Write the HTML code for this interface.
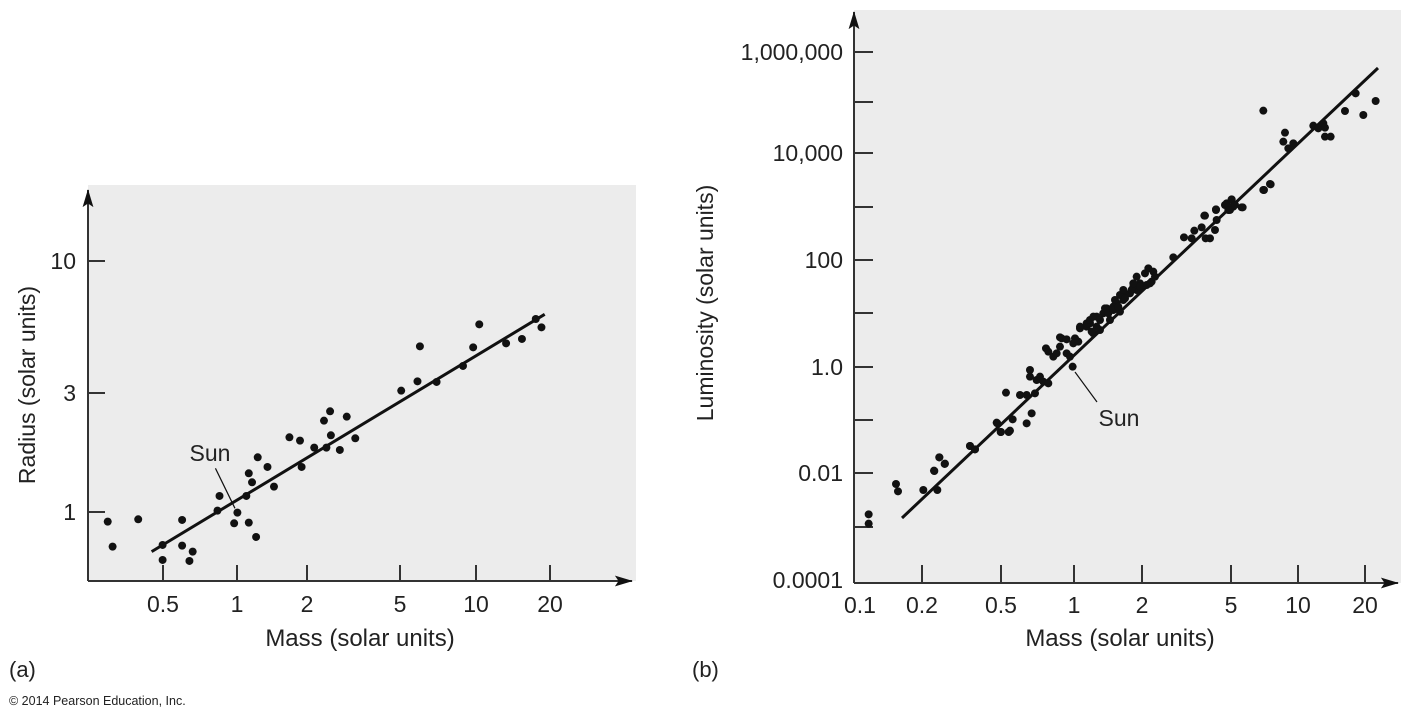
<!DOCTYPE html>
<html><head><meta charset="utf-8"><style>
html,body{margin:0;padding:0;background:#fff;}
svg{display:block;font-family:"Liberation Sans",Arial,sans-serif;}
</style></head><body>
<svg width="1411" height="721" viewBox="0 0 1411 721" xmlns="http://www.w3.org/2000/svg">
<defs>
<marker id="ar2" viewBox="0 0 20 12" markerWidth="18" markerHeight="12" refX="19" refY="6" orient="auto" markerUnits="userSpaceOnUse"><path d="M0,0 L20,6 L0,12 L4,6 Z" fill="#111"/></marker></defs>
<!-- LEFT PANEL -->
<rect x="88" y="185" width="548" height="396" fill="#ececec"/>
<line x1="88" y1="581" x2="88" y2="190" stroke="#333" stroke-width="2" marker-end="url(#ar2)"/>
<line x1="88" y1="581" x2="632" y2="581" stroke="#333" stroke-width="2" marker-end="url(#ar2)"/>
<g stroke="#333" stroke-width="2">
<line x1="88" y1="261" x2="105" y2="261"/><line x1="88" y1="393" x2="105" y2="393"/><line x1="88" y1="512" x2="105" y2="512"/>
<line x1="163" y1="581" x2="163" y2="565"/><line x1="237" y1="581" x2="237" y2="565"/><line x1="307" y1="581" x2="307" y2="565"/>
<line x1="400" y1="581" x2="400" y2="565"/><line x1="476" y1="581" x2="476" y2="565"/><line x1="550" y1="581" x2="550" y2="565"/>
</g>
<g font-size="23" fill="#222" text-anchor="end">
<text x="76" y="269">10</text><text x="76" y="401">3</text><text x="76" y="520">1</text></g>
<g font-size="23" fill="#222" text-anchor="middle">
<text x="163" y="612">0.5</text><text x="237" y="612">1</text><text x="307" y="612">2</text><text x="400" y="612">5</text><text x="476" y="612">10</text><text x="550" y="612">20</text>
<text x="360" y="646" font-size="24">Mass (solar units)</text>
<text transform="translate(35,385) rotate(-90)">Radius (solar units)</text>
</g>
<g transform="translate(0,180) scale(0.4065,0.3333)">
<line x1="373" y1="1115" x2="1340" y2="403" stroke="#111" stroke-width="3" vector-effect="non-scaling-stroke"/>
<line x1="530" y1="865" x2="578" y2="985" stroke="#111" stroke-width="1.2" vector-effect="non-scaling-stroke"/>
<g fill="#111">
<ellipse cx="265" cy="1025" rx="9.8" ry="12"/><ellipse cx="277" cy="1100" rx="9.8" ry="12"/><ellipse cx="340" cy="1018" rx="9.8" ry="12"/><ellipse cx="400" cy="1095" rx="9.8" ry="12"/><ellipse cx="400" cy="1140" rx="9.8" ry="12"/><ellipse cx="448" cy="1020" rx="9.8" ry="12"/><ellipse cx="448" cy="1097" rx="9.8" ry="12"/><ellipse cx="466" cy="1143" rx="9.8" ry="12"/><ellipse cx="474" cy="1115" rx="9.8" ry="12"/><ellipse cx="535" cy="992" rx="9.8" ry="12"/><ellipse cx="540" cy="948" rx="9.8" ry="12"/><ellipse cx="576" cy="1030" rx="9.8" ry="12"/><ellipse cx="584" cy="998" rx="9.8" ry="12"/><ellipse cx="606" cy="948" rx="9.8" ry="12"/><ellipse cx="612" cy="880" rx="9.8" ry="12"/><ellipse cx="612" cy="1028" rx="9.8" ry="12"/><ellipse cx="620" cy="907" rx="9.8" ry="12"/><ellipse cx="630" cy="1071" rx="9.8" ry="12"/><ellipse cx="634" cy="832" rx="9.8" ry="12"/><ellipse cx="658" cy="861" rx="9.8" ry="12"/><ellipse cx="674" cy="920" rx="9.8" ry="12"/><ellipse cx="712" cy="772" rx="9.8" ry="12"/><ellipse cx="738" cy="782" rx="9.8" ry="12"/><ellipse cx="742" cy="861" rx="9.8" ry="12"/><ellipse cx="773" cy="803" rx="9.8" ry="12"/><ellipse cx="797" cy="722" rx="9.8" ry="12"/><ellipse cx="803" cy="803" rx="9.8" ry="12"/><ellipse cx="812" cy="694" rx="9.8" ry="12"/><ellipse cx="814" cy="766" rx="9.8" ry="12"/><ellipse cx="836" cy="810" rx="9.8" ry="12"/><ellipse cx="853" cy="710" rx="9.8" ry="12"/><ellipse cx="874" cy="775" rx="9.8" ry="12"/><ellipse cx="987" cy="632" rx="9.8" ry="12"/><ellipse cx="1027" cy="604" rx="9.8" ry="12"/><ellipse cx="1033" cy="499" rx="9.8" ry="12"/><ellipse cx="1074" cy="606" rx="9.8" ry="12"/><ellipse cx="1139" cy="558" rx="9.8" ry="12"/><ellipse cx="1164" cy="502" rx="9.8" ry="12"/><ellipse cx="1179" cy="433" rx="9.8" ry="12"/><ellipse cx="1245" cy="490" rx="9.8" ry="12"/><ellipse cx="1284" cy="477" rx="9.8" ry="12"/><ellipse cx="1318" cy="417" rx="9.8" ry="12"/><ellipse cx="1332" cy="442" rx="9.8" ry="12"/>
</g></g>
<text x="210" y="461" font-size="23" fill="#222" text-anchor="middle">Sun</text>
<text x="9" y="677" font-size="22" fill="#222">(a)</text>
<text x="9" y="705" font-size="12.5" fill="#222">© 2014 Pearson Education, Inc.</text>

<!-- RIGHT PANEL -->
<rect x="854" y="10" width="547" height="573" fill="#ececec"/>
<line x1="854" y1="583" x2="854" y2="12" stroke="#333" stroke-width="2" marker-end="url(#ar2)"/>
<line x1="854" y1="583" x2="1398" y2="583" stroke="#333" stroke-width="2" marker-end="url(#ar2)"/>
<g stroke="#333" stroke-width="2">
<line x1="854" y1="52" x2="873" y2="52"/><line x1="854" y1="102" x2="873" y2="102"/><line x1="854" y1="153" x2="873" y2="153"/><line x1="854" y1="207" x2="873" y2="207"/><line x1="854" y1="260" x2="873" y2="260"/><line x1="854" y1="313" x2="873" y2="313"/><line x1="854" y1="367" x2="873" y2="367"/><line x1="854" y1="420" x2="873" y2="420"/><line x1="854" y1="473" x2="873" y2="473"/><line x1="854" y1="527" x2="873" y2="527"/>
<line x1="922" y1="583" x2="922" y2="565"/><line x1="1001" y1="583" x2="1001" y2="565"/><line x1="1074" y1="583" x2="1074" y2="565"/><line x1="1142" y1="583" x2="1142" y2="565"/><line x1="1231" y1="583" x2="1231" y2="565"/><line x1="1298" y1="583" x2="1298" y2="565"/><line x1="1365" y1="583" x2="1365" y2="565"/>
</g>
<g font-size="23" fill="#222" text-anchor="end">
<text x="843" y="60">1,000,000</text><text x="843" y="161">10,000</text><text x="843" y="268">100</text><text x="843" y="375">1.0</text><text x="843" y="481">0.01</text><text x="843" y="588">0.0001</text></g>
<g font-size="23" fill="#222" text-anchor="middle">
<text x="860" y="613">0.1</text><text x="922" y="613">0.2</text><text x="1001" y="613">0.5</text><text x="1074" y="613">1</text><text x="1142" y="613">2</text><text x="1231" y="613">5</text><text x="1298" y="613">10</text><text x="1365" y="613">20</text>
<text x="1120" y="646" font-size="24">Mass (solar units)</text>
<text transform="translate(713,303) rotate(-90)">Luminosity (solar units)</text>
<text x="1119" y="426">Sun</text>
</g>
<line x1="902" y1="518" x2="1378" y2="68" stroke="#111" stroke-width="3"/>
<line x1="1075" y1="372" x2="1097" y2="402" stroke="#111" stroke-width="1.2"/>
<g fill="#111">
<g transform="translate(850,400) scale(0.3333)">
<circle cx="56" cy="343" r="12"/><circle cx="56" cy="371" r="12"/><circle cx="138" cy="252" r="12"/><circle cx="144" cy="274" r="12"/><circle cx="220" cy="270" r="12"/><circle cx="253" cy="213" r="12"/><circle cx="262" cy="270" r="12"/><circle cx="268" cy="172" r="12"/><circle cx="285" cy="191" r="12"/><circle cx="360" cy="138" r="12"/><circle cx="375" cy="148" r="12"/><circle cx="440" cy="68" r="12"/><circle cx="453" cy="96" r="12"/><circle cx="476" cy="96" r="12"/>
</g>
<g transform="translate(840,280) scale(0.3333)">
<circle cx="282" cy="572" r="12"/><circle cx="298" cy="532" r="12"/><circle cx="314" cy="552" r="12"/><circle cx="390" cy="498" r="12"/><circle cx="405" cy="508" r="12"/><circle cx="472" cy="430" r="12"/><circle cx="482" cy="456" r="12"/><circle cx="498" cy="338" r="12"/><circle cx="510" cy="452" r="12"/><circle cx="518" cy="418" r="12"/><circle cx="540" cy="345" r="12"/><circle cx="560" cy="430" r="12"/><circle cx="575" cy="400" r="12"/><circle cx="560" cy="345" r="12"/><circle cx="585" cy="340" r="12"/><circle cx="570" cy="290" r="12"/><circle cx="570" cy="270" r="12"/><circle cx="590" cy="300" r="12"/><circle cx="600" cy="290" r="12"/><circle cx="610" cy="305" r="12"/><circle cx="625" cy="310" r="12"/><circle cx="618" cy="205" r="12"/><circle cx="625" cy="215" r="12"/><circle cx="640" cy="230" r="12"/><circle cx="650" cy="220" r="12"/><circle cx="660" cy="200" r="12"/><circle cx="665" cy="175" r="12"/><circle cx="680" cy="220" r="12"/><circle cx="690" cy="230" r="12"/><circle cx="698" cy="260" r="12"/><circle cx="700" cy="190" r="12"/><circle cx="715" cy="185" r="12"/><circle cx="720" cy="145" r="12"/><circle cx="740" cy="140" r="12"/><circle cx="750" cy="130" r="12"/><circle cx="760" cy="160" r="12"/><circle cx="770" cy="110" r="12"/><circle cx="780" cy="150" r="12"/><circle cx="790" cy="100" r="12"/><circle cx="800" cy="85" r="12"/><circle cx="810" cy="120" r="12"/><circle cx="820" cy="80" r="12"/><circle cx="830" cy="70" r="12"/><circle cx="840" cy="95" r="12"/><circle cx="850" cy="60" r="12"/><circle cx="855" cy="45" r="12"/><circle cx="870" cy="40" r="12"/><circle cx="880" cy="20" r="12"/><circle cx="890" cy="30" r="12"/><circle cx="900" cy="10" r="12"/><circle cx="920" cy="15" r="12"/><circle cx="935" cy="5" r="12"/>
</g>
<g transform="translate(1060,180) scale(0.3333)">
<circle cx="0" cy="472" r="12"/><circle cx="20" cy="478" r="12"/><circle cx="45" cy="475" r="12"/><circle cx="60" cy="440" r="12"/><circle cx="80" cy="430" r="12"/><circle cx="90" cy="420" r="12"/><circle cx="100" cy="410" r="12"/><circle cx="110" cy="440" r="12"/><circle cx="95" cy="455" r="12"/><circle cx="120" cy="420" r="12"/><circle cx="135" cy="385" r="12"/><circle cx="145" cy="400" r="12"/><circle cx="160" cy="390" r="12"/><circle cx="165" cy="360" r="12"/><circle cx="175" cy="380" r="12"/><circle cx="180" cy="345" r="12"/><circle cx="190" cy="330" r="12"/><circle cx="195" cy="355" r="12"/><circle cx="215" cy="330" r="12"/><circle cx="220" cy="310" r="12"/><circle cx="230" cy="290" r="12"/><circle cx="240" cy="320" r="12"/><circle cx="255" cy="280" r="12"/><circle cx="265" cy="265" r="12"/><circle cx="270" cy="310" r="12"/><circle cx="280" cy="275" r="12"/><circle cx="285" cy="290" r="12"/><circle cx="340" cy="232" r="12"/><circle cx="372" cy="172" r="12"/><circle cx="395" cy="175" r="12"/><circle cx="403" cy="152" r="12"/><circle cx="425" cy="142" r="12"/><circle cx="433" cy="107" r="12"/><circle cx="437" cy="175" r="12"/><circle cx="450" cy="175" r="12"/><circle cx="465" cy="150" r="12"/><circle cx="468" cy="90" r="12"/><circle cx="470" cy="120" r="12"/><circle cx="495" cy="75" r="12"/><circle cx="505" cy="90" r="12"/><circle cx="515" cy="58" r="12"/><circle cx="520" cy="80" r="12"/><circle cx="548" cy="82" r="12"/><circle cx="612" cy="30" r="12"/><circle cx="632" cy="13" r="12"/>
</g>
<g transform="translate(1180,0) scale(0.3333)">
<circle cx="75" cy="647" r="12"/><circle cx="108" cy="628" r="12"/><circle cx="140" cy="610" r="12"/><circle cx="155" cy="600" r="12"/><circle cx="150" cy="630" r="12"/><circle cx="165" cy="615" r="12"/><circle cx="185" cy="622" r="12"/><circle cx="250" cy="570" r="12"/><circle cx="270" cy="552" r="12"/><circle cx="250" cy="332" r="12"/><circle cx="315" cy="398" r="12"/><circle cx="310" cy="425" r="12"/><circle cx="325" cy="445" r="12"/><circle cx="340" cy="430" r="12"/><circle cx="400" cy="377" r="12"/><circle cx="415" cy="385" r="12"/><circle cx="430" cy="370" r="12"/><circle cx="435" cy="383" r="12"/><circle cx="435" cy="410" r="12"/><circle cx="452" cy="410" r="12"/><circle cx="495" cy="333" r="12"/><circle cx="527" cy="280" r="12"/><circle cx="550" cy="345" r="12"/><circle cx="587" cy="303" r="12"/>
</g>
</g>
<text x="692" y="677" font-size="22" fill="#222">(b)</text>
</svg>
</body></html>
